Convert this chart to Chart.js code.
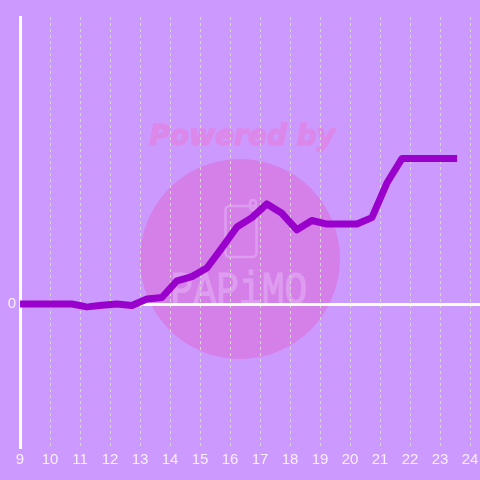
<!DOCTYPE html>
<html><head><meta charset="utf-8">
<style>html,body{margin:0;padding:0;background:#cc99ff}canvas{display:block}</style>
<script src="https://cdn.jsdelivr.net/npm/chart.js@4/dist/chart.umd.min.js"></script>
</head><body><canvas id="c" width="480" height="480"></canvas>
<script>
const hours=[8.73,9.23,9.73,10.23,10.73,11.23,11.73,12.23,12.73,13.23,13.73,14.23,14.73,15.23,15.73,16.23,16.73,17.23,17.73,18.23,18.73,19.23,19.73,20.23,20.73,21.23,21.73,22.23,22.73,23.57];
const values=[0,0,0,0,0,-0.2,-0.08,0,-0.1,0.35,0.45,1.6,1.9,2.5,3.9,5.35,6,6.95,6.3,5.15,5.8,5.55,5.55,5.55,6,8.4,10.1,10.1,10.1,10.1];
const xTicks=[9,10,11,12,13,14,15,16,17,18,19,20,21,22,23,24];
const yTicks=[0];
const watermark={
 id:'watermark',
 beforeDraw(ch){
  const c=ch.ctx;c.save();
  c.fillStyle='#cc99ff';c.fillRect(0,0,480,480);
  c.fillStyle='#d580e8';c.beginPath();c.arc(240,259,100,0,Math.PI*2);c.fill();
  c.fillStyle='#dc88ea';c.strokeStyle='#dc88ea';c.lineWidth=1.5;
  c.font='italic bold 28px "DejaVu Sans"';c.textAlign='center';c.textBaseline='alphabetic';
  c.fillText('Powered by',242,145);c.strokeText('Powered by',242,145);
  c.strokeStyle='#de9cf0';c.lineWidth=2.5;
  c.beginPath();c.roundRect(225.5,206,31,51,4);c.stroke();
  c.beginPath();c.roundRect(250,200,6,10,3);c.stroke();
  c.fillStyle='#de9cf0';c.lineWidth=1;
  c.font='38px "Liberation Mono"';
  c.save();c.translate(239,304);c.scale(1,1.2);c.fillText('PAPiMO',0,0);c.strokeText('PAPiMO',0,0);c.restore();
  c.restore();
 }
};
new Chart(document.getElementById('c'),{
 type:'scatter',
 data:{datasets:[{data:hours.map((h,i)=>({x:h,y:values[i]})),showLine:true,borderColor:'#9900cc',borderWidth:7,pointRadius:0,tension:0,borderCapStyle:'butt',borderJoinStyle:'round'}]},
 plugins:[watermark],
 options:{
  responsive:false,animation:false,devicePixelRatio:1,
  layout:{autoPadding:false,padding:{top:17,left:0,right:0,bottom:0}},
  plugins:{legend:{display:false},tooltip:{enabled:false}},
  scales:{
   x:{type:'linear',min:9,max:24.333,
    afterFit(s){s.height=33;s.paddingLeft=0;s.paddingRight=0},
    afterBuildTicks(s){s.ticks=xTicks.map(value=>({value}))},
    border:{display:false,dash:[3,3]},
    grid:{drawTicks:false,lineWidth:1,color:c=>(c.tick&&c.tick.value===9)?'transparent':'#cfdcbc'},
    ticks:{autoSkip:false,maxRotation:0,padding:4,color:'#f8f0ff',font:{family:'"Liberation Sans"',size:15}}
   },
   y:{min:-9.93,max:19.93,
    afterFit(s){s.width=20;s.paddingTop=0;s.paddingBottom=0},
    afterBuildTicks(s){s.ticks=yTicks.map(value=>({value}))},
    border:{display:true,color:'#ffffff',width:3},
    grid:{drawTicks:false,lineWidth:3,color:'#ffffff'},
    ticks:{padding:4,color:'#f8f0ff',font:{family:'"Liberation Sans"',size:15}}
   }
  }
 }
});
</script></body></html>
